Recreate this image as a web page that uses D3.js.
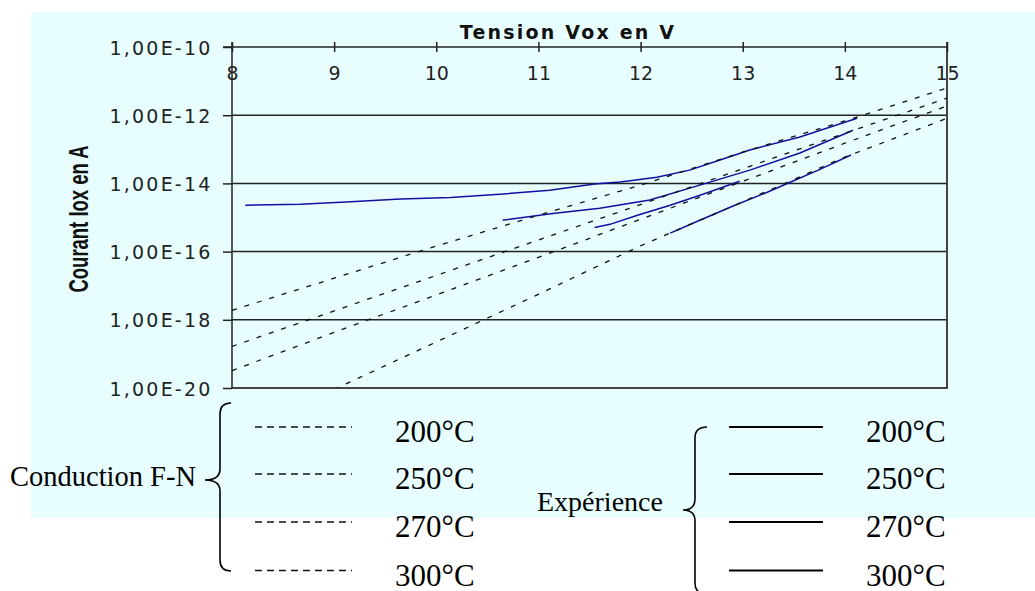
<!DOCTYPE html>
<html>
<head>
<meta charset="utf-8">
<script src="https://cdn.jsdelivr.net/npm/d3@7"></script>
<style>
html,body{margin:0;padding:0;background:#fff;}
svg{display:block;}
</style>
</head>
<body>
<svg id="chart" width="1035" height="591"></svg>
<script>
// ---------------- DATA ----------------
const xTicks = [8, 9, 10, 11, 12, 13, 14, 15];
const yTicks = [1e-10, 1e-12, 1e-14, 1e-16, 1e-18, 1e-20];
const yTickLabels = ["1,00E-10", "1,00E-12", "1,00E-14", "1,00E-16", "1,00E-18", "1,00E-20"];
const xTitle = "Tension Vox en V";
const yTitle = "Courant Iox en A";

// Fowler-Nordheim model (dashed), current in A at each voltage of fnVolts
const fnVolts = [8, 9, 10, 11, 12, 13, 14, 15];
const fn300 = [1.9e-18, 1.66e-17, 1.45e-16, 1.17e-15, 8.9e-15, 8.3e-14, 6.8e-13, 6.3e-12];
const fn270 = [1.66e-19, 1.82e-18, 2.0e-17, 2.19e-16, 2.4e-15, 2.69e-14, 2.95e-13, 3.16e-12];
const fn250 = [3.24e-20, 4.27e-19, 5.37e-18, 6.76e-17, 8.9e-16, 1.15e-14, 1.51e-13, 1.86e-12];
const fn200 = [null, 9.1e-21, 2.24e-19, 5.6e-18, 1.48e-16, 2.88e-15, 5.9e-14, 8.1e-13];

// Experimental curves (solid)
const exp300V = [8.13, 8.67, 9.16, 9.65, 10.14, 10.62, 11.11, 11.55, 11.80, 12.16, 12.48, 12.77, 13.07, 13.56, 14.12];
const exp300I = [2.29e-15, 2.45e-15, 2.88e-15, 3.47e-15, 3.89e-15, 4.79e-15, 6.31e-15, 9.55e-15, 1.10e-14, 1.51e-14, 2.45e-14, 4.79e-14, 9.55e-14, 2.29e-13, 8.13e-13];
const exp270V = [10.65, 11.14, 11.60, 12.09, 12.58, 13.07, 13.56, 14.08];
const exp270I = [8.3e-16, 1.32e-15, 1.86e-15, 3.24e-15, 8.9e-15, 2.45e-14, 7.8e-14, 3.63e-13];
const exp250V = [11.55, 11.70, 11.97, 12.29, 12.61, 12.97];
const exp250I = [5.1e-16, 6.3e-16, 1.17e-15, 2.29e-15, 4.79e-15, 1.15e-14];
const exp200V = [12.29, 12.58, 12.90, 13.24, 13.47, 13.74, 14.06];
const exp200I = [3.47e-16, 8.3e-16, 2.14e-15, 5.5e-15, 1.10e-14, 2.45e-14, 6.8e-14];

const legendTemps = ["200°C", "250°C", "270°C", "300°C"];
const legendGroupFN = "Conduction F-N";
const legendGroupExp = "Expérience";

// ---------------- DRAWING ----------------
const svg = d3.select("#chart");
const L = 232, R = 947, T = 47, B = 388;
const x = d3.scaleLinear().domain([8, 15]).range([L, R]);
const y = d3.scaleLog().domain([1e-20, 1e-10]).range([B, T]);

svg.append("rect").attr("x", 31).attr("y", 12).attr("width", 1004).attr("height", 506).attr("fill", "#E8FEFE");

svg.append("defs").append("clipPath").attr("id", "plotclip")
  .append("rect").attr("x", L).attr("y", T).attr("width", R - L).attr("height", B - T);

// gridlines
svg.append("g").selectAll("line").data(yTicks.slice(1)).join("line")
  .attr("x1", L).attr("x2", R)
  .attr("y1", d => y(d)).attr("y2", d => y(d))
  .attr("stroke", (d, i) => i === yTicks.length - 2 ? "#444" : "#222")
  .attr("stroke-width", (d, i) => i === yTicks.length - 2 ? 2 : 1.5);

// right border
svg.append("line").attr("x1", R).attr("x2", R).attr("y1", 42).attr("y2", B + 1)
  .attr("stroke", "#444").attr("stroke-width", 2);

// left axis
const yAxis = d3.axisLeft(y).tickValues(yTicks).tickSize(9)
  .tickFormat((d, i) => yTickLabels[i]);
const gy = svg.append("g").attr("transform", `translate(${L},0)`).call(yAxis);
gy.select(".domain").remove();
gy.selectAll(".tick line").attr("stroke", "#222").attr("stroke-width", 1.5);
gy.selectAll(".tick text")
  .attr("x", -22 + 2.5).attr("dy", null).attr("y", 7)
  .attr("font-family", "DejaVu Sans, sans-serif").attr("font-size", 19)
  .attr("letter-spacing", "2.2px").attr("fill", "#222");
svg.append("line").attr("x1", L).attr("x2", L).attr("y1", 42).attr("y2", B)
  .attr("stroke", "#222").attr("stroke-width", 1.5);

// top axis
const xAxis = d3.axisTop(x).tickValues(xTicks).tickSize(5).tickFormat(d3.format("d"));
const gx = svg.append("g").attr("transform", `translate(0,${T})`).call(xAxis);
gx.select(".domain").remove();
gx.selectAll(".tick line").attr("y1", 5).attr("y2", -5).attr("stroke", "#222").attr("stroke-width", 1.5);
gx.selectAll(".tick text").attr("y", 33).attr("dy", null)
  .attr("font-family", "DejaVu Sans, sans-serif").attr("font-size", 19).attr("fill", "#222");
svg.append("line").attr("x1", L - 9).attr("x2", R).attr("y1", T).attr("y2", T)
  .attr("stroke", "#222").attr("stroke-width", 1.5);

// axis titles
svg.append("text").attr("x", 568).attr("y", 39).attr("text-anchor", "middle")
  .attr("font-family", "DejaVu Sans, sans-serif").attr("font-weight", "bold")
  .attr("font-size", 19).attr("letter-spacing", "2.2px").attr("fill", "#111").text(xTitle);
svg.append("text").attr("transform", "translate(88,219) rotate(-90)")
  .attr("text-anchor", "middle")
  .attr("font-family", "Liberation Sans Narrow, Liberation Sans, sans-serif").attr("font-weight", "bold")
  .attr("font-size", 28).attr("textLength", 147).attr("lengthAdjust", "spacingAndGlyphs")
  .attr("fill", "#111").text(yTitle);

// curves
const plot = svg.append("g").attr("clip-path", "url(#plotclip)");
const line = d3.line().defined(d => d[1] != null).x(d => x(d[0])).y(d => y(d[1]));

const expSeries = [[exp300V, exp300I], [exp270V, exp270I], [exp250V, exp250I], [exp200V, exp200I]];
expSeries.forEach(([vs, is]) => {
  plot.append("path").datum(vs.map((v, i) => [v, is[i]]))
    .attr("d", line).attr("fill", "none").attr("stroke", "#10109E").attr("stroke-width", 1.5);
});
[fn300, fn270, fn250, fn200].forEach(arr => {
  plot.append("path").datum(fnVolts.map((v, i) => [v, arr[i]]))
    .attr("d", line).attr("fill", "none").attr("stroke", "#111")
    .attr("stroke-width", 1.3).attr("stroke-dasharray", "5,8");
});

// legend
const rowY = [427, 474, 522, 570.5];
const lg = svg.append("g");
const serif = "Liberation Serif, Times New Roman, serif";
lg.selectAll("line.fn").data(legendTemps).join("line").attr("class", "fn")
  .attr("x1", 255).attr("x2", 352).attr("y1", (d, i) => rowY[i]).attr("y2", (d, i) => rowY[i])
  .attr("stroke", "#111").attr("stroke-width", 1.6).attr("stroke-dasharray", "7,5");
lg.selectAll("text.fn").data(legendTemps).join("text").attr("class", "fn")
  .attr("x", 395).attr("y", (d, i) => rowY[i] + 15)
  .attr("font-family", serif).attr("font-size", 31).attr("fill", "#000").text(d => d);
lg.selectAll("line.ex").data(legendTemps).join("line").attr("class", "ex")
  .attr("x1", 729).attr("x2", 823).attr("y1", (d, i) => rowY[i]).attr("y2", (d, i) => rowY[i])
  .attr("stroke", "#000").attr("stroke-width", 1.8);
lg.selectAll("text.ex").data(legendTemps).join("text").attr("class", "ex")
  .attr("x", 866).attr("y", (d, i) => rowY[i] + 15)
  .attr("font-family", serif).attr("font-size", 31).attr("fill", "#000").text(d => d);

lg.append("text").attr("x", 10).attr("y", 486).attr("font-family", serif).attr("font-size", 28.5)
  .attr("fill", "#000").text(legendGroupFN);
lg.append("text").attr("x", 537).attr("y", 511).attr("font-family", serif).attr("font-size", 28)
  .attr("fill", "#000").text(legendGroupExp);

function brace(xv, top, bottom, mid, tip, hook) {
  const r = 11;
  return `M${hook},${top} Q${xv},${top} ${xv},${top + r} L${xv},${mid - r} Q${xv},${mid} ${tip},${mid} ` +
         `Q${xv},${mid} ${xv},${mid + r} L${xv},${bottom - r} Q${xv},${bottom} ${hook},${bottom}`;
}
lg.append("path").attr("d", brace(220, 403, 571, 480, 205, 231))
  .attr("fill", "none").attr("stroke", "#000").attr("stroke-width", 1.6);
lg.append("path").attr("d", brace(695, 427, 594, 510, 683, 707))
  .attr("fill", "none").attr("stroke", "#000").attr("stroke-width", 1.6);
</script>
</body>
</html>
